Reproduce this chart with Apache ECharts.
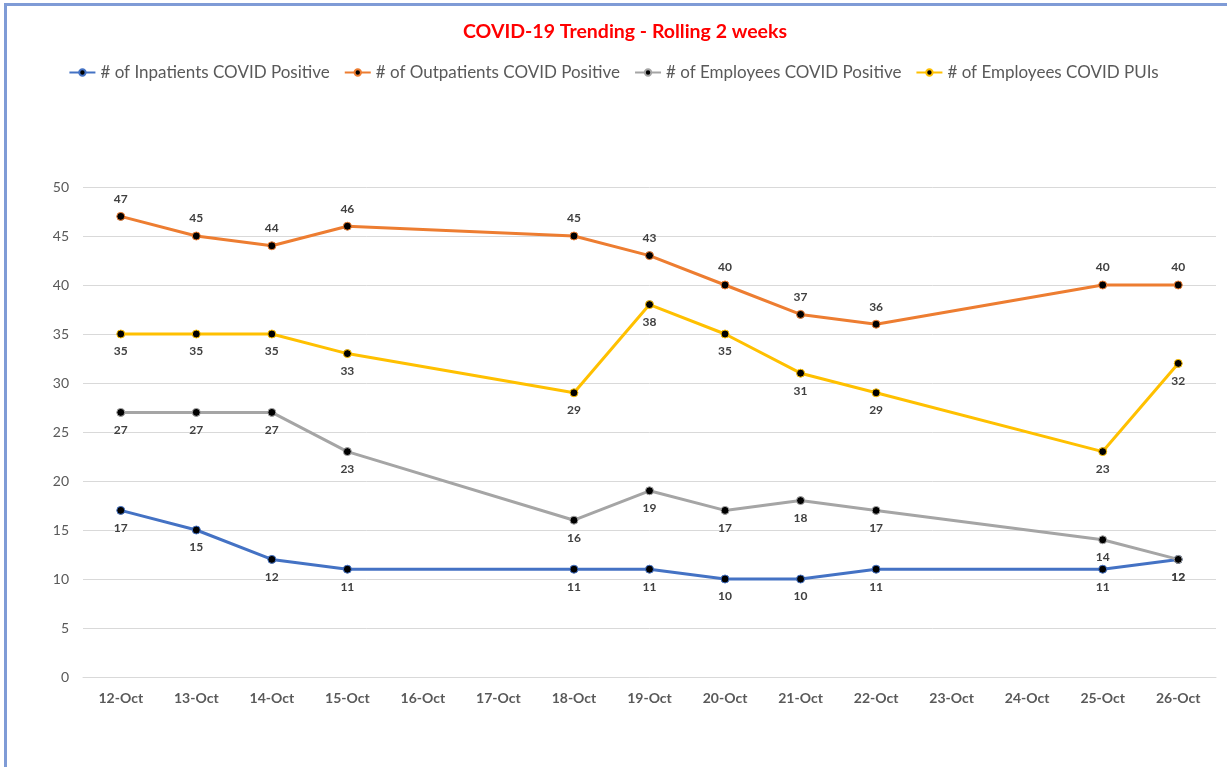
<!DOCTYPE html>
<html>
<head>
    <meta charset="utf-8" />
    <title>COVID-19 Trending</title>
    <script src="https://cdn.jsdelivr.net/npm/echarts@6/dist/echarts.min.js"></script>
    <style>
        *{
            margin:0;
            padding:0;
        }
        body{
            background:#fff;
        }
        .frame{
            position:absolute;
            left:4px;
            top:3px;
            width:1240px;
            height:800px;
            border-left:3px solid #7f9bd6;
            border-top:3px solid #7f9bd6;
        }
        #main{
            position:absolute;
            left:0;
            top:0;
            width:1227px;
            height:767px;
        }
    </style>
</head>
<body>
<div class="frame"></div>
<div id="main"></div>
<script type="text/javascript">
    // 日期
    var days = ['12-Oct','13-Oct','14-Oct','15-Oct','16-Oct','17-Oct','18-Oct','19-Oct','20-Oct','21-Oct','22-Oct','23-Oct','24-Oct','25-Oct','26-Oct'];
    // 各系列数据（空值 = 无记录）
    var inpatients  = [17, 15, 12, 11, null, null, 11, 11, 10, 10, 11, null, null, 11, 12];
    var outpatients = [47, 45, 44, 46, null, null, 45, 43, 40, 37, 36, null, null, 40, 40];
    var employees   = [27, 27, 27, 23, null, null, 16, 19, 17, 18, 17, null, null, 14, 12];
    var puis        = [35, 35, 35, 33, null, null, 29, 38, 35, 31, 29, null, null, 23, 32];

    var myChart = echarts.init(document.getElementById('main'));

    function mkSeries(name, data, color, pos){
        return {
            name: name,
            type: 'line',
            data: data,
            connectNulls: true,
            symbol: 'circle',
            symbolSize: 8,
            lineStyle: {color: color, width: 3},
            itemStyle: {color: '#000', borderColor: color, borderWidth: 1},
            label: {
                show: true,
                position: pos,
                distance: 7,
                color: '#404040',
                fontWeight: 'bold',
                fontSize: 12,
                fontFamily: 'Lato'
            }
        };
    }

    var option = {
        animation: false,
        title: {
            text: 'COVID-19 Trending - Rolling 2 weeks',
            left: 620,
            textAlign: 'center',
            top: 17,
            textStyle: {color: '#ff0000', fontSize: 19.5, fontWeight: 'bold', fontFamily: 'Lato'}
        },
        legend: {
            top: 59,
            left: 'center',
            itemWidth: 26,
            itemHeight: 8,
            itemGap: 14,
            textStyle: {color: '#595959', fontSize: 17, fontFamily: 'Lato'}
        },
        grid: {left: 83, right: 11, top: 187, bottom: 90},
        xAxis: {
            type: 'category',
            data: days,
            axisLine: {lineStyle: {color: '#d9d9d9', width: 1}},
            axisTick: {show: false},
            axisLabel: {color: '#595959', fontSize: 14, fontWeight: 'bold', fontFamily: 'Lato', margin: 14}
        },
        yAxis: {
            type: 'value',
            min: 0,
            max: 50,
            interval: 5,
            axisLine: {show: false},
            axisTick: {show: false},
            splitLine: {lineStyle: {color: '#d9d9d9'}},
            axisLabel: {color: '#595959', fontSize: 14, fontFamily: 'Lato', margin: 14}
        },
        series: [
            mkSeries('# of Inpatients COVID Positive', inpatients, '#4472c4', 'bottom'),
            mkSeries('# of Outpatients COVID Positive', outpatients, '#ed7d31', 'top'),
            mkSeries('# of Employees COVID Positive', employees, '#a5a5a5', 'bottom'),
            mkSeries('# of Employees COVID PUIs', puis, '#ffc000', 'bottom')
        ]
    };

    myChart.setOption(option);
</script>
</body>
</html>
